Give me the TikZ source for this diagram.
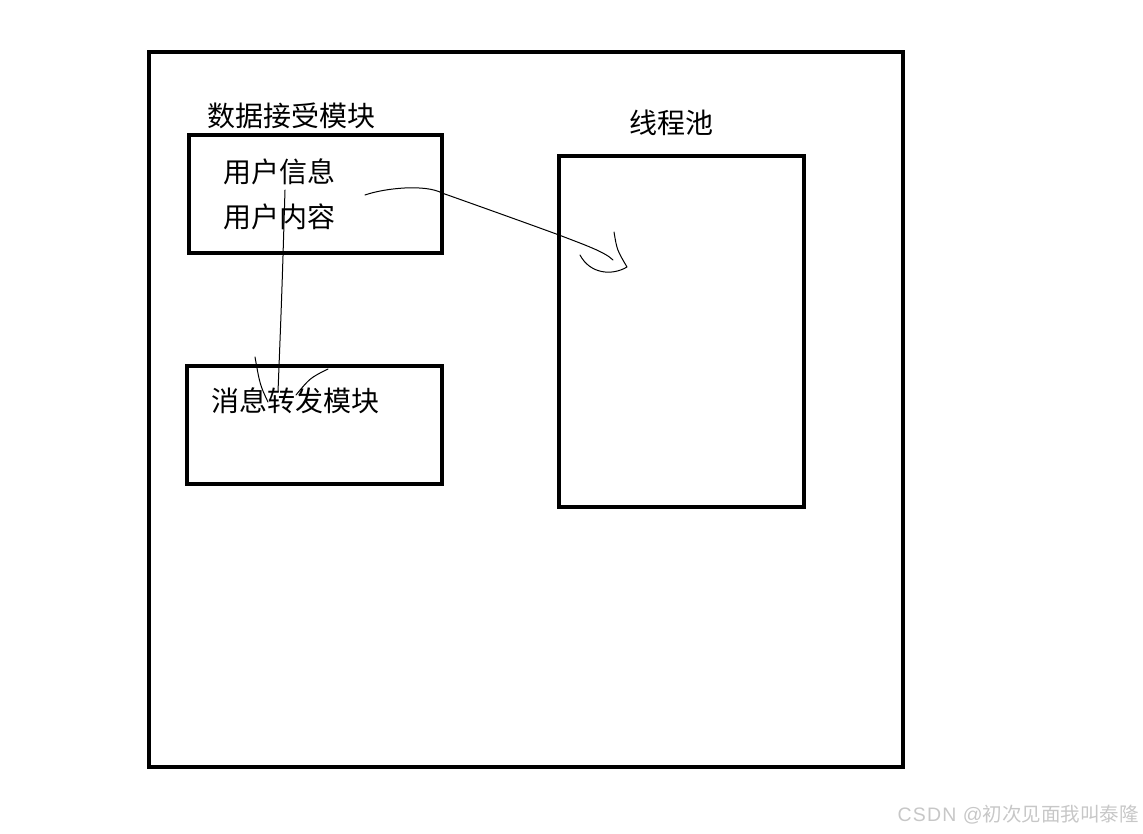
\documentclass[tikz,border=0pt]{standalone}
\usepackage{fontspec}
\newfontfamily\cjk{Noto Sans CJK SC}
\newfontfamily\latin[LetterSpace=6]{Liberation Sans}
\usetikzlibrary{positioning}

\begin{document}
\begin{tikzpicture}[x=1pt, y=-1pt, node distance=0pt,
  every node/.style={inner sep=0pt, font=\cjk\fontsize{28}{32}\selectfont},
  box/.style={rectangle, draw, line width=4.5pt},
  pen/.style={line width=1pt, line cap=round, line join=round}]
\useasboundingbox (0,0) rectangle (1143,834);
\node[box, minimum width=754pt, minimum height=715pt] (frame) at (526,409.5) {};
\node[box, minimum width=253pt, minimum height=118pt] (recv) at (315.5,194) {};
\node[box, minimum width=255pt, minimum height=118pt] (fwd) at (314.5,425) {};
\node[box, minimum width=245pt, minimum height=351pt] (pool) at (681.5,331.5) {};
\node[anchor=west] (recvlbl) at (207,116) {数据接受模块};
\node[anchor=west] (info) at (223,172) {用户信息};
\node[anchor=west] (content) at (223,217) {用户内容};
\node[anchor=west] (fwdlbl) at (211,401) {消息转发模块};
\node (poollbl) at (671,123) {线程池};
\node[anchor=east, text=black!22, font=\fontsize{19.5}{22}\selectfont\cjk] (mark) at (1139,815) {{\latin CSDN @}初次见面我叫泰隆};
% hand drawn arrows
\coordinate (c1) at (365,195);
\coordinate (c2) at (613,260);
\coordinate (c3) at (285,190);
\coordinate (c4) at (278,392);
\draw[pen] (c1) .. controls (385,188) and (425,184) .. (442,193)
  .. controls (490,210) and (540,228) .. (559,235)
  .. controls (585,245) and (605,252) .. (c2);
\draw[pen] (614,232) .. controls (617,250) .. (627,267)
  .. controls (612,276) and (590,274) .. (580,255);
\draw[pen] (c3) .. controls (282,290) .. (c4);
\draw[pen] (255,357) .. controls (260,385) .. (268,402);
\draw[pen] (328,369) .. controls (310,378) .. (296,395);
\end{tikzpicture}
\end{document}
